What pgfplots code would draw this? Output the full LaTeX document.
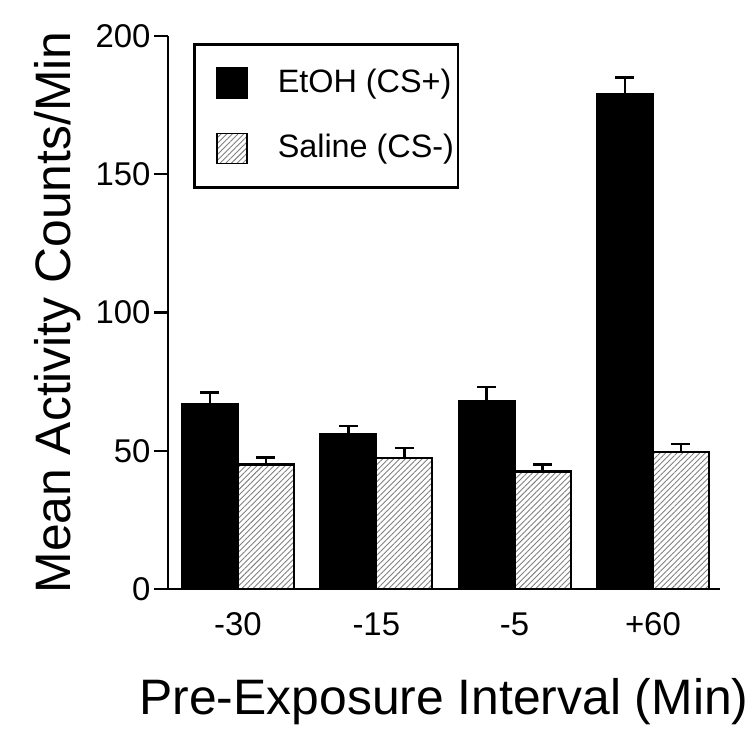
\documentclass[border=0pt]{standalone}
\usepackage{pgfplots}
\pgfplotsset{compat=1.18}
\usepackage{pgfplotstable}
\usepackage{fontspec}
\setmainfont{Liberation Sans}
\usetikzlibrary{patterns.meta}
\pgfplotstableread{
x y e
0 67 4
1 56 3
2 68 5
3 179 6
}\etoh
\pgfplotstableread{
x y e
0 45 2.5
1 47.5 3.5
2 42.5 2.5
3 49.5 3
}\saline
\pgfplotsset{myerr/.style={
  error bars/y dir=plus, error bars/y explicit,
  error bars/error bar style={line width=2.6bp, black, solid},
  error bars/error mark options={rotate=90, line width=2.6bp, black, mark size=9.5bp}}}
\begin{document}
\begin{tikzpicture}
\useasboundingbox (-168bp,-162bp) rectangle (588bp,589bp);
\begin{axis}[
  at={(0,0)}, anchor=south west,
  scale only axis, width=552bp, height=553bp,
  xmin=-0.506, xmax=3.485, ymin=0, ymax=200,
  axis x line*=bottom, axis y line*=left,
  axis line style={line width=2.8bp, black},
  ybar=0pt, bar width=0.405,
  xtick={0,1,2,3}, xticklabels={-30,-15,-5,+60},
  ytick={0,50,100,150,200},
  major tick length=14bp, tick align=outside,
  xtick style={draw=none},
  ytick style={line width=2.5bp, black},
  tick label style={font=\fontsize{33}{40}\selectfont},
  x tick label style={yshift=-6bp},
  /pgf/number format/assume math mode=true,
  ylabel={Mean Activity Counts/Min},
  xlabel={Pre-Exposure Interval (Min)},
  label style={font=\fontsize{50}{60}\selectfont},
  ylabel style={at={(axis description cs:-0.1775,0.5)}, anchor=base},
  xlabel style={at={(axis description cs:0.5,-0.2278)}, anchor=base},
  legend style={at={(rel axis cs:0.0453,0.9873)}, anchor=north west,
    draw=black, line width=2.5bp, inner xsep=22bp, inner ysep=23bp,
    row sep=34bp, column sep=30bp,
    nodes={inner sep=0pt, anchor=base west},
    font=\fontsize{32.5}{38}\selectfont},
  legend cell align=left,
  legend image code/.code={\draw[#1, line width=1.5bp] (0bp,-6bp) rectangle (30bp,24bp);},
]
\addplot[fill=black, draw=black, line width=2bp, bar shift=-0.2025, myerr]
  table[x=x, y=y, y error=e] {\etoh};
\addplot[draw=black, line width=2.2bp, bar shift=0.2025, myerr,
  pattern={Lines[angle=45, distance=4bp, line width=0.9bp]}, pattern color=black!50]
  table[x=x, y=y, y error=e] {\saline};
\legend{\makebox[158bp][l]{EtOH (CS+)}, \makebox[158bp][l]{Saline (CS-)}}
\end{axis}
\end{tikzpicture}
\end{document}
